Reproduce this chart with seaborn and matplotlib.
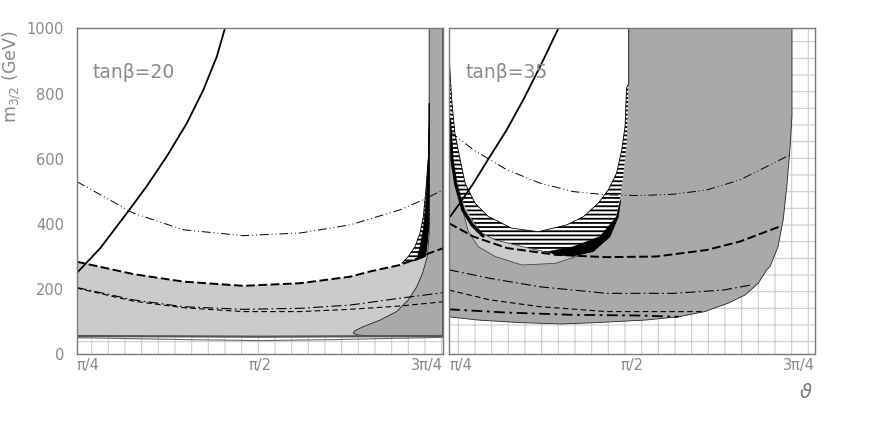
import matplotlib
matplotlib.use("Agg")
import matplotlib.pyplot as plt
from matplotlib.patches import Rectangle
import seaborn as sns

# x axis: theta in units of pi, y axis: m_3/2 in GeV

# ---------------------------------------------------------
# tan(beta) = 20
# ---------------------------------------------------------
l20_solid_x = [0.250, 0.282, 0.3185, 0.3455, 0.373, 0.4005, 0.423, 0.4415, 0.4525]
l20_solid_m = [249, 325, 433, 515, 607, 709, 811, 914, 1000]

l20_dash_x = [0.250, 0.3275, 0.3955, 0.4775, 0.555, 0.6235, 0.6505, 0.6915, 0.7145, 0.7315, 0.750]
l20_dash_m = [284, 246, 223, 210, 218, 238, 254, 274, 293, 310, 325]

l20_floor_x = [0.25, 0.40, 0.50, 0.60, 0.75]
l20_floor_m = [56, 55, 54, 55, 56]
l20_floor2_m = [51, 45, 42, 45, 52]

l20_ddup_x = [0.25, 0.3275, 0.3955, 0.4775, 0.555, 0.6235, 0.6915, 0.7235, 0.75]
l20_ddup_m = [530, 433, 382, 364, 372, 397, 443, 474, 504]

l20_low_x = [0.25, 0.3275, 0.3955, 0.4775, 0.555, 0.6235, 0.6915, 0.75]
l20_ddlow_m = [205, 167, 146, 138, 141, 151, 172, 189]
l20_thin_m = [203, 163, 143, 131, 131, 138, 148, 161]

l20_dark_x = [0.7315, 0.7315, 0.729, 0.7225, 0.7145, 0.703, 0.687, 0.6645, 0.6415,
              0.629, 0.628, 0.6345, 0.655, 0.75, 0.75]
l20_dark_m = [1000, 371, 300, 249, 207, 167, 131, 105, 85, 71, 64, 59, 56, 55, 1000]

l20_hatch_x = [0.7315, 0.7315, 0.7305, 0.727, 0.7235, 0.719, 0.712, 0.703, 0.694,
               0.7145, 0.726, 0.7315]
l20_hatch_m = [770, 709, 607, 504, 422, 372, 330, 300, 279, 289, 300, 400]

l20_black_x = [0.7315, 0.7315, 0.7305, 0.728, 0.726, 0.7145, 0.719, 0.7235, 0.727, 0.7305]
l20_black_m = [709, 504, 382, 320, 300, 290, 330, 382, 464, 607]

# ---------------------------------------------------------
# tan(beta) = 35
# ---------------------------------------------------------
r35_solid_x = [0.25, 0.265, 0.2835, 0.306, 0.329, 0.3515, 0.3745, 0.3995]
r35_solid_m = [418, 464, 525, 607, 689, 781, 883, 1000]

r35_dark_x = [0.25, 0.29, 0.3495, 0.404, 0.4495, 0.518, 0.5635, 0.5995, 0.6315, 0.6545,
              0.6725, 0.684, 0.6885, 0.6995, 0.7065, 0.7115, 0.716, 0.7185, 0.7185, 0.25]
r35_dark_m = [115, 105, 97, 93, 97, 105, 115, 131, 157, 182,
              218, 259, 269, 330, 412, 515, 637, 730, 1000, 1000]

r35_uout_x = [0.25, 0.25, 0.2515, 0.258, 0.2675, 0.2815, 0.2945, 0.313, 0.3585, 0.395,
              0.42, 0.447, 0.4675, 0.4768, 0.4835, 0.488, 0.4928, 0.495, 0.4955]
r35_uout_m = [1000, 678, 627, 545, 474, 412, 372, 351, 326, 305,
              302, 315, 355, 400, 474, 545, 648, 801, 1000]

r35_uin_x = [0.25, 0.25, 0.2537, 0.258, 0.2625, 0.272, 0.2855, 0.3035, 0.3355, 0.372,
             0.411, 0.4335, 0.454, 0.4675, 0.479, 0.486, 0.4905, 0.4925, 0.4955, 0.4955]
r35_uin_m = [1000, 919, 781, 679, 627, 525, 464, 423, 387, 376,
             397, 422, 464, 504, 556, 627, 699, 817, 830, 1000]

r35_black_x = [0.388, 0.42, 0.4563, 0.479, 0.4846, 0.4813, 0.47, 0.447, 0.42, 0.395]
r35_black_m = [316, 330, 361, 422, 474, 422, 361, 315, 302, 305]

r35_band_x = [0.2507, 0.254, 0.2595, 0.269, 0.2815, 0.2965]
r35_band_m = [719, 596, 520, 443, 397, 363]

r35_lgrey_x = [0.27, 0.2765, 0.29, 0.313, 0.3495, 0.395, 0.4265, 0.445,
               0.436, 0.395, 0.3585, 0.313, 0.2945, 0.2815]
r35_lgrey_m = [430, 376, 330, 300, 274, 279, 302, 320,
               326, 308, 326, 351, 372, 412]

r35_ddup_x = [0.2515, 0.2835, 0.329, 0.3745, 0.42, 0.4655, 0.511, 0.5565, 0.602, 0.6475, 0.693, 0.716]
r35_ddup_m = [683, 627, 566, 525, 499, 489, 487, 491, 504, 535, 586, 612]

r35_dash_x = [0.25, 0.2835, 0.329, 0.397, 0.4655, 0.5335, 0.602, 0.6475, 0.702]
r35_dash_m = [402, 361, 326, 305, 298, 300, 320, 346, 392]

r35_ddlow_x = [0.25, 0.306, 0.3745, 0.4655, 0.5565, 0.6245, 0.6635]
r35_ddlow_m = [259, 233, 207, 187, 187, 197, 213]

r35_thin_x = [0.25, 0.306, 0.3745, 0.4655, 0.5565, 0.60]
r35_thin_m = [197, 167, 146, 131, 131, 131]

r35_dashdot_x = [0.25, 0.329, 0.42, 0.511, 0.5635]
r35_dashdot_m = [138, 128, 121, 119, 115]

xtick_pos = [0.25, 0.5, 0.75]
xtick_labels = ["π/4", "π/2", "3π/4"]
panel_labels = ["tanβ=20", "tanβ=35"]

# ---------------------------------------------------------
# style
# ---------------------------------------------------------
sns.set_style("white")
plt.rcParams["font.family"] = ["DejaVu Sans"]

GREY_TXT = "#8a8a8a"
LIGHT = "#cbcbcb"
DARK = "#a9a9a9"
GRID = "#cdcdcd"

DASH = (0, (4.5, 1.8))
THIN_DASH = (0, (5, 3))
DASH_DOT2 = (0, (9, 3, 1, 3, 1, 3))
DASH_DOT = (0, (9, 3, 1.5, 3))
THICK_DASH_DOT = (0, (6, 2.5, 1.5, 2.5))


def line(ax, x, y, lw=1.0, ls="-", color="k"):
    sns.lineplot(x=x, y=y, ax=ax, sort=False, estimator=None, color=color,
                 lw=lw, linestyle=ls, zorder=6)


def striped(ax, x, y, z):
    with plt.rc_context({"hatch.linewidth": 1.3}):
        ax.fill(x, y, facecolor="white", edgecolor="black", lw=0, hatch="----", zorder=z)


def setup(ax, show_ylabels):
    ax.set_xlim(0.25, 0.75)
    ax.set_ylim(0, 1000)
    with plt.rc_context({"hatch.linewidth": 0.8}):
        ax.add_patch(Rectangle((0, 0), 1, 1, transform=ax.transAxes, facecolor="white",
                               edgecolor=GRID, lw=0, hatch="+", zorder=0))
    ax.set_xticks(xtick_pos)
    ax.set_xticklabels(xtick_labels)
    ax.set_xticks([0.375, 0.625], minor=True)
    ax.set_yticks(range(0, 1001, 200))
    ax.set_yticks(range(0, 1001, 50), minor=True)
    ax.tick_params(axis="x", which="major", direction="in", length=8.5, width=1,
                   colors="#666666", labelcolor=GREY_TXT, labelsize=10.5, pad=3)
    ax.tick_params(axis="x", which="minor", direction="in", length=5, width=1,
                   colors="#666666")
    ax.tick_params(axis="y", which="major", direction="in", length=4, width=0.8,
                   colors="#777777", labelcolor=GREY_TXT, labelsize=10.5, pad=9)
    ax.tick_params(axis="y", which="minor", direction="in", length=2.5, width=0.8,
                   colors="#777777")
    if not show_ylabels:
        ax.tick_params(axis="y", labelleft=False)
    labels = ax.get_xticklabels()
    labels[0].set_ha("left")
    labels[-1].set_ha("right")
    for sp in ax.spines.values():
        sp.set_visible(True)
        sp.set_color("#7a7a7a")
        sp.set_linewidth(1.0)
        sp.set_zorder(10)
    ax.xaxis.set_zorder(10)
    ax.yaxis.set_zorder(10)
    ax.set_xlabel("")
    ax.set_ylabel("")


fig = plt.figure(figsize=(8.72, 4.22), dpi=100)
W, H = 872, 422
ax1 = fig.add_axes([76.7 / W, 67.7 / H, 366 / W, 326 / H])
ax2 = fig.add_axes([449 / W, 67.7 / H, 366 / W, 326 / H])

# ---------------------------------------------------------
# left panel
# ---------------------------------------------------------
ax = ax1
ax.fill_between(l20_floor_x, l20_floor_m, 1000, color="white", lw=0, zorder=1)
ax.fill(l20_dash_x + l20_floor_x[::-1], l20_dash_m + l20_floor_m[::-1],
        facecolor=LIGHT, lw=0, zorder=2)
ax.fill(l20_dark_x, l20_dark_m, facecolor=DARK, edgecolor="#222222", lw=0.6, zorder=3)
striped(ax, l20_hatch_x, l20_hatch_m, 4)
ax.fill(l20_hatch_x, l20_hatch_m, facecolor="none", edgecolor="black", lw=0.6, zorder=4)
ax.fill(l20_black_x, l20_black_m, facecolor="black", edgecolor="black", lw=0.5, zorder=5)

line(ax, l20_floor_x, l20_floor_m, lw=1.6, color="#555555")
line(ax, l20_floor_x, l20_floor2_m, lw=0.8, color="#666666")
line(ax, l20_solid_x, l20_solid_m, lw=1.3)
line(ax, l20_dash_x, l20_dash_m, lw=1.4, ls=DASH)
line(ax, l20_ddup_x, l20_ddup_m, lw=0.7, ls=DASH_DOT2)
line(ax, l20_low_x, l20_ddlow_m, lw=0.8, ls=DASH_DOT)
line(ax, l20_low_x, l20_thin_m, lw=0.8, ls=THIN_DASH)
setup(ax, True)
ax.text(0.272, 847, panel_labels[0], fontsize=13.5, color=GREY_TXT, va="baseline",
        zorder=8)

# ---------------------------------------------------------
# right panel
# ---------------------------------------------------------
ax = ax2
ax.fill(r35_dark_x, r35_dark_m, facecolor=DARK, edgecolor="#222222", lw=0.6, zorder=1)
striped(ax, r35_uout_x, r35_uout_m, 2)
ax.fill(r35_uin_x, r35_uin_m, facecolor="white", edgecolor="black", lw=0.6, zorder=3)
ax.fill(r35_lgrey_x, r35_lgrey_m, facecolor=LIGHT, edgecolor="#333333", lw=0.5, zorder=4)
ax.fill(r35_black_x, r35_black_m, facecolor="black", edgecolor="black", lw=0.5, zorder=5)
line(ax, r35_band_x, r35_band_m, lw=2.4)

line(ax, r35_solid_x, r35_solid_m, lw=1.3)
line(ax, r35_dash_x, r35_dash_m, lw=1.4, ls=DASH)
line(ax, r35_ddup_x, r35_ddup_m, lw=0.7, ls=DASH_DOT2)
line(ax, r35_ddlow_x, r35_ddlow_m, lw=0.8, ls=DASH_DOT)
line(ax, r35_thin_x, r35_thin_m, lw=0.8, ls=THIN_DASH)
line(ax, r35_dashdot_x, r35_dashdot_m, lw=1.3, ls=THICK_DASH_DOT)
setup(ax, False)
ax.text(0.273, 847, panel_labels[1], fontsize=13.5, color=GREY_TXT, va="baseline",
        zorder=8)

# axis titles
fig.text(12 / W, 1 - 77 / H, r"m$_{\mathregular{3/2}}$ (GeV)", rotation=90,
         ha="center", va="center", fontsize=12.5, color=GREY_TXT)
fig.text(806 / W, 1 - 392 / H, r"$\vartheta$", ha="center", va="center",
         fontsize=14, color="#777777")

fig.savefig("out.png", dpi=100)
